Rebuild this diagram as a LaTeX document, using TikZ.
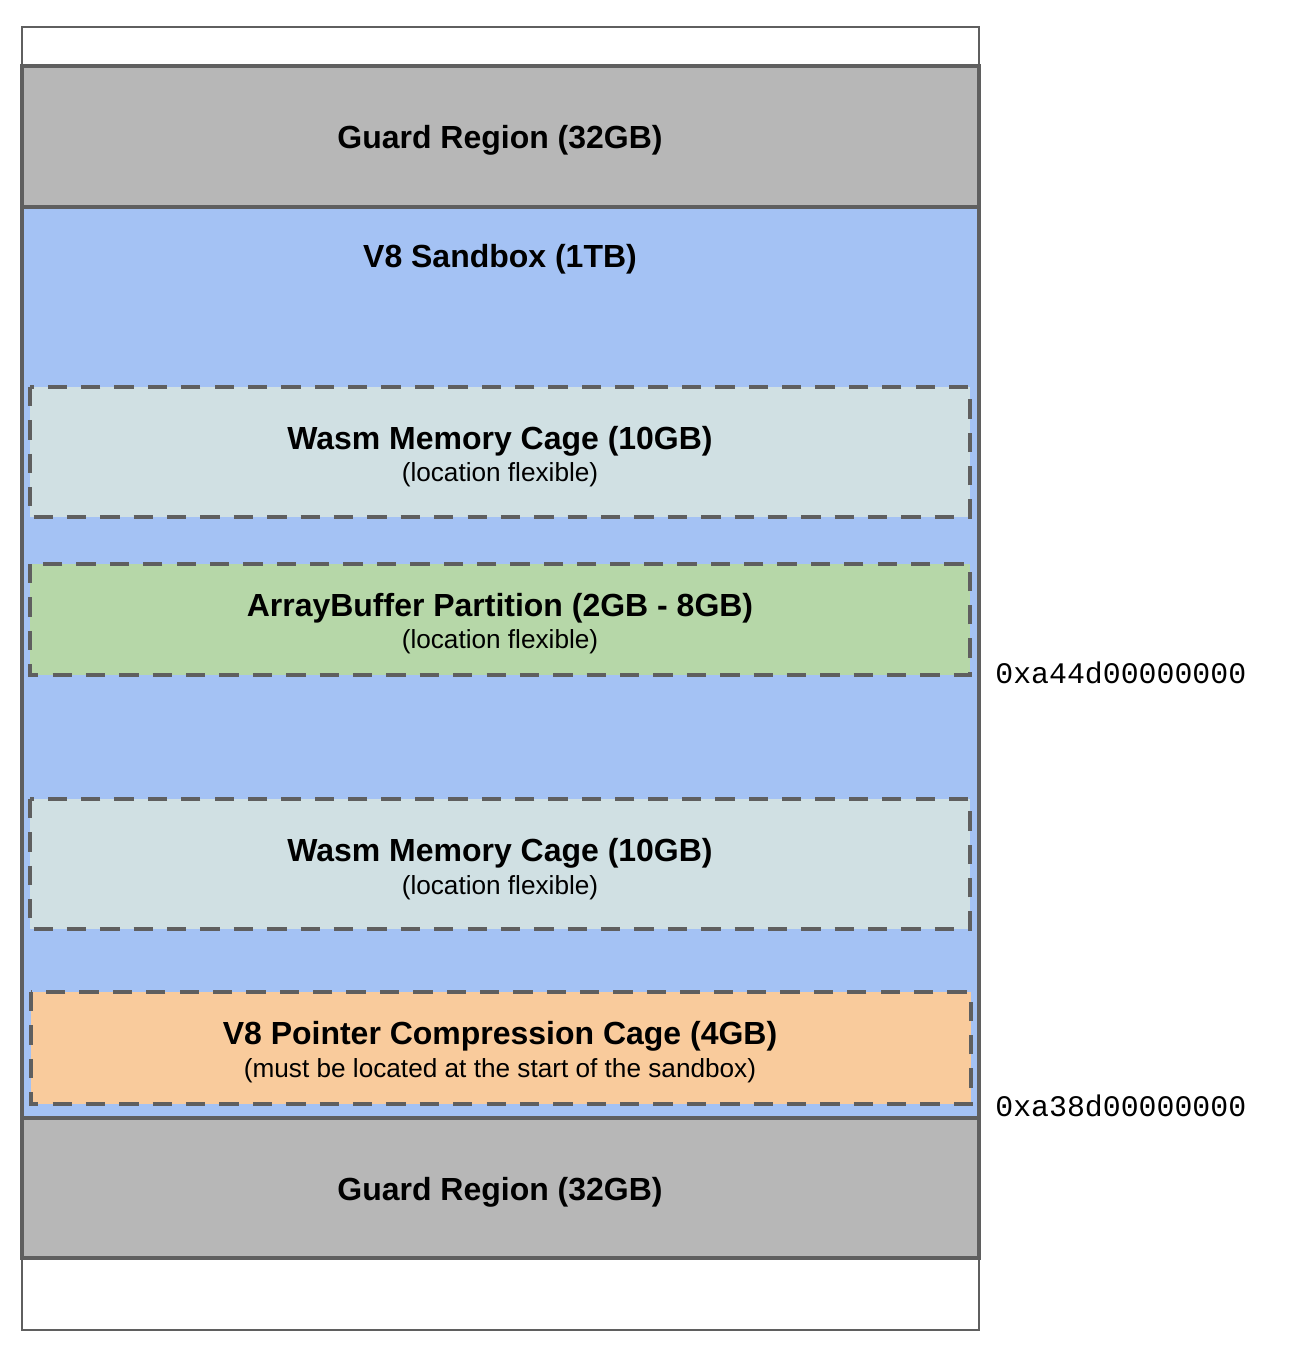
\documentclass[tikz,border=0pt]{standalone}
\usepackage{fontspec}
\setmainfont{Liberation Sans}
\setmonofont{Liberation Mono}
\definecolor{guardgray}{HTML}{B7B7B7}
\definecolor{sandblue}{HTML}{A4C2F4}
\definecolor{wasmgray}{HTML}{D0E0E3}
\definecolor{abgreen}{HTML}{B6D7A8}
\definecolor{ptrorange}{HTML}{F9CB9C}
\definecolor{edgegray}{HTML}{5F5F5F}
\tikzset{
  region/.style={draw=edgegray, line width=1.8pt},
  cage/.style={draw=edgegray, line width=2.3pt, dash pattern=on 11pt off 8pt},
  title/.style={font=\bfseries\fontsize{18.2}{21}\selectfont},
  note/.style={font=\fontsize{14.9}{17}\selectfont},
  addr/.style={font=\ttfamily\fontsize{17}{20}\selectfont, anchor=west, inner sep=0pt},
}
\begin{document}
\begin{tikzpicture}[x=0.02cm,y=-0.02cm]
  \useasboundingbox (0,0) rectangle (1306,1352);
  % outer frame
  \draw[edgegray, line width=1.1pt, fill=white] (22,27) rectangle (979,1330);
  % guard regions and the sandbox
  \fill[guardgray] (22,66) rectangle (979,207);
  \fill[sandblue] (22,207) rectangle (979,1118);
  \fill[guardgray] (22,1118) rectangle (979,1258);
  % cages inside the sandbox
  \draw[cage, fill=wasmgray] (30,387) rectangle (970,517);
  \draw[cage, fill=abgreen] (30,564) rectangle (970,675);
  \draw[cage, fill=wasmgray] (30,799) rectangle (970,929);
  \draw[cage, fill=ptrorange] (31,992) rectangle (971,1104);
  \draw[region] (22,66) rectangle (979,207);
  \draw[region] (22,207) rectangle (979,1118);
  \draw[region] (22,1118) rectangle (979,1258);
  % labels
  \node[title] (guardtop) at (500,140) {Guard Region (32GB)};
  \node[title] (sandbox) at (500,259) {V8 Sandbox (1TB)};
  \node[title] (wasmone) at (500,441) {Wasm Memory Cage (10GB)};
  \node[note] (wasmonenote) at (500,475) {(location flexible)};
  \node[title] (abpart) at (500,608) {ArrayBuffer Partition (2GB - 8GB)};
  \node[note] (abpartnote) at (500,642) {(location flexible)};
  \node[title] (wasmtwo) at (500,853) {Wasm Memory Cage (10GB)};
  \node[note] (wasmtwonote) at (500,888) {(location flexible)};
  \node[title] (ptrcage) at (500,1036) {V8 Pointer Compression Cage (4GB)};
  \node[note] (ptrcagenote) at (500,1071) {(must be located at the start of the sandbox)};
  \node[title] (guardbottom) at (500,1192) {Guard Region (32GB)};
  \node[addr] (addrhigh) at (995,673) {0xa44d00000000};
  \node[addr] (addrlow) at (995,1106) {0xa38d00000000};
\end{tikzpicture}
\end{document}
